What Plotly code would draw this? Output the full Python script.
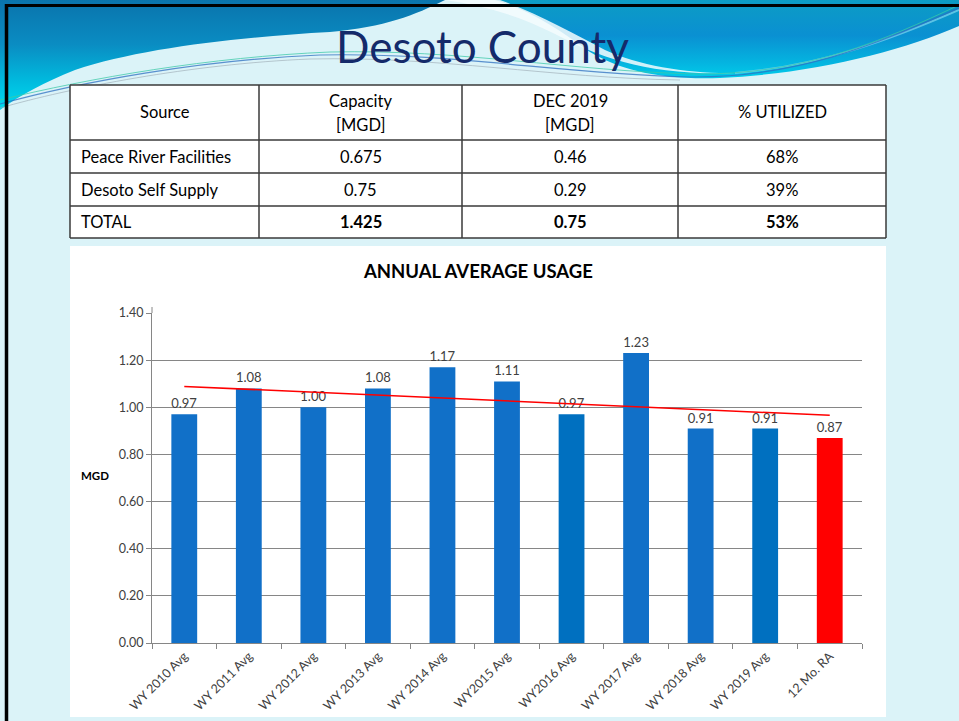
import base64
import numpy as np
import plotly.graph_objects as go

W, H = 959, 721


def px(x):
    return x / W


def py(y):
    return 1 - y / H


# ---- table data ----
table_header = ["Source", "Capacity<br>[MGD]", "DEC 2019<br>[MGD]", "% UTILIZED"]
sources = ["Peace River Facilities", "Desoto Self Supply", "TOTAL"]
capacity = ["0.675", "0.75", "1.425"]
dec_2019 = ["0.46", "0.29", "0.75"]
utilized = ["68%", "39%", "53%"]

# ---- chart data ----
categories = ["WY 2010 Avg", "WY 2011 Avg", "WY 2012 Avg", "WY 2013 Avg", "WY 2014 Avg",
              "WY2015 Avg", "WY2016 Avg", "WY 2017 Avg", "WY 2018 Avg", "WY 2019 Avg", "12 Mo. RA"]
usage = [0.97, 1.08, 1.00, 1.08, 1.17, 1.11, 0.97, 1.23, 0.91, 0.91, 0.87]
bar_colors = ["#1170C8", "#1170C8", "#1170C8", "#1170C8", "#1170C8", "#1170C8",
              "#0070C0", "#1170C8", "#1170C8", "#0070C0", "#FF0000"]

FONT = "Lato"

# linear trend through the annual values
idx = np.arange(len(usage))
slope, intercept = np.polyfit(idx, usage, 1)
trend = slope * idx + intercept

fig = go.Figure()
fig.add_trace(go.Bar(
    x=categories, y=usage, width=0.4,
    marker=dict(color=bar_colors, line=dict(width=0)),
    texttemplate="%{y:.2f}", textposition="outside", constraintext="none",
    textfont=dict(family=FONT, size=13, color="#404040"),
    cliponaxis=False, hoverinfo="x+y",
))
fig.add_trace(go.Scatter(
    x=categories, y=trend, mode="lines",
    line=dict(color="#FF0000", width=1.5), hoverinfo="skip",
))

# decorative header swoosh drawn as inline svg
swoosh = """<svg xmlns='http://www.w3.org/2000/svg' width='959' height='110' viewBox='0 0 959 110' preserveAspectRatio='none'>
<defs>
<linearGradient id='g' x1='0' y1='0' x2='0' y2='1'>
<stop offset='0' stop-color='#0A74AC'/><stop offset='0.4' stop-color='#0A8CC2'/>
<stop offset='0.75' stop-color='#00BCDF'/><stop offset='1' stop-color='#00DCEF'/>
</linearGradient>
<linearGradient id='h' x1='0' y1='0' x2='0' y2='1'>
<stop offset='0' stop-color='#0C9CC4'/><stop offset='0.45' stop-color='#0A90D2'/>
<stop offset='0.8' stop-color='#04B4E0'/><stop offset='1' stop-color='#00CCEA'/>
</linearGradient>
</defs>
<path d='M0,0 H445 C415,15 385,27 330,32 C240,37 140,48 75,70 C45,82 20,95 0,110 Z' fill='url(#g)'/>
<path d='M495,0 H959 V26 C900,52 810,74 720,78 C660,80 620,70 590,52 C560,30 530,10 495,0 Z' fill='url(#h)'/>
<path d='M445,0 H500 C535,12 575,34 605,50 C640,66 690,74 735,73 C650,76 600,58 555,34 C520,16 485,6 445,0 Z' fill='#F4FCFE' opacity='0.85'/>
<path d='M735,73 C820,66 890,40 959,10' fill='none' stroke='#7FD6F0' stroke-width='2' opacity='0.7'/>
<path d='M0,104 C80,82 200,60 320,55 C450,52 560,74 690,77 C800,78 880,42 959,8' fill='none' stroke='#2E6FC0' stroke-width='1.2' opacity='0.75'/>
<path d='M0,100 C90,78 210,57 330,52 C460,49 570,71 695,74 C805,75 885,40 959,5' fill='none' stroke='#3CC8A8' stroke-width='1' opacity='0.75'/>
<path d='M0,108 C70,88 190,64 310,59 C440,56 550,78 680,80' fill='none' stroke='#9AA7B0' stroke-width='1' opacity='0.6'/>
</svg>"""
swoosh_uri = "data:image/svg+xml;base64," + base64.b64encode(swoosh.encode()).decode()

shapes = []
# chart panel
shapes.append(dict(type="rect", xref="paper", yref="paper", x0=px(70), x1=px(886),
                   y0=py(246), y1=py(717), fillcolor="white", line=dict(width=0), layer="below"))
# y axis line runs a little past the top gridline
shapes.append(dict(type="line", xref="paper", yref="paper", x0=px(152), x1=px(152),
                   y0=py(313), y1=py(307), line=dict(color="#868686", width=1)))
# table
col_x = [70, 259, 462, 678, 886]
row_y = [85, 140, 173, 206, 238]
shapes.append(dict(type="rect", xref="paper", yref="paper", x0=px(col_x[0]), x1=px(col_x[-1]),
                   y0=py(row_y[-1]), y1=py(row_y[0]), fillcolor="white", line=dict(width=0), layer="below"))
for x in col_x:
    shapes.append(dict(type="line", xref="paper", yref="paper", x0=px(x), x1=px(x),
                       y0=py(row_y[0]), y1=py(row_y[-1]), line=dict(color="#3A3A3A", width=1.5)))
for y in row_y:
    shapes.append(dict(type="line", xref="paper", yref="paper", x0=px(col_x[0]), x1=px(col_x[-1]),
                       y0=py(y), y1=py(y), line=dict(color="#3A3A3A", width=1.5)))
# slide frame
shapes.append(dict(type="line", xref="paper", yref="paper", x0=px(5), x1=1, y0=py(5.5), y1=py(5.5),
                   line=dict(color="black", width=3)))
shapes.append(dict(type="line", xref="paper", yref="paper", x0=px(6.5), x1=px(6.5), y0=py(4), y1=0,
                   line=dict(color="black", width=3.5)))


def note(text, x, y, size, xanchor="center", color="black"):
    return dict(text=text, x=px(x), y=py(y), xref="paper", yref="paper", showarrow=False,
                xanchor=xanchor, yanchor="middle",
                font=dict(family=FONT, size=size, color=color))


annotations = [note("Desoto County", 482, 46, 44, color="#142A6A")]
for i, h in enumerate(table_header):
    cx = (col_x[i] + col_x[i + 1]) / 2
    lines = h.split("<br>")
    ys = [112.5] if len(lines) == 1 else [101, 125]
    for t, yy in zip(lines, ys):
        annotations.append(note(t, cx, yy, 16.5))
for r in range(len(sources)):
    cy = (row_y[r + 1] + row_y[r + 2]) / 2
    annotations.append(note(sources[r], 79, cy, 16.5, xanchor="left"))
    for c, vals in enumerate([capacity, dec_2019, utilized]):
        cx = (col_x[c + 1] + col_x[c + 2]) / 2
        t = vals[r] if sources[r] != "TOTAL" else "<b>" + vals[r] + "</b>"
        annotations.append(note(t, cx, cy, 16.5))
annotations.append(note("<b>ANNUAL AVERAGE USAGE</b>", 478, 271, 18.5))
annotations.append(note("<b>MGD</b>", 95, 475, 11.5))

fig.update_layout(
    width=W, height=H,
    margin=dict(l=0, r=0, t=0, b=0, autoexpand=False),
    paper_bgcolor="#DBF3F8",
    plot_bgcolor="white",
    showlegend=False,
    shapes=shapes,
    annotations=annotations,
    images=[dict(source=swoosh_uri, xref="paper", yref="paper", x=0, y=1, sizex=1, sizey=110 / H,
                 xanchor="left", yanchor="top", sizing="stretch", layer="below")],
    xaxis=dict(
        domain=[px(152), px(862)], type="category", range=[-0.5, 10.5], automargin=False,
        showline=True, linecolor="#868686", linewidth=1,
        ticks="outside", tickson="boundaries", ticklen=5, tickcolor="#868686",
        tickangle=-45, tickfont=dict(family=FONT, size=12.5, color="#404040"),
        showgrid=False, fixedrange=True,
    ),
    yaxis=dict(
        domain=[py(643), py(313)], range=[0, 1.4001], dtick=0.2, tickformat=".2f", automargin=False,
        showline=True, linecolor="#868686", linewidth=1,
        showgrid=True, gridcolor="#868686", gridwidth=1, zeroline=False,
        ticks="outside", ticklen=5, tickcolor="#868686",
        tickfont=dict(family=FONT, size=12.5, color="#404040"), fixedrange=True,
    ),
)

fig.write_html("out.html", config={"displayModeBar": False},
               post_script="document.body.style.margin='0';")
